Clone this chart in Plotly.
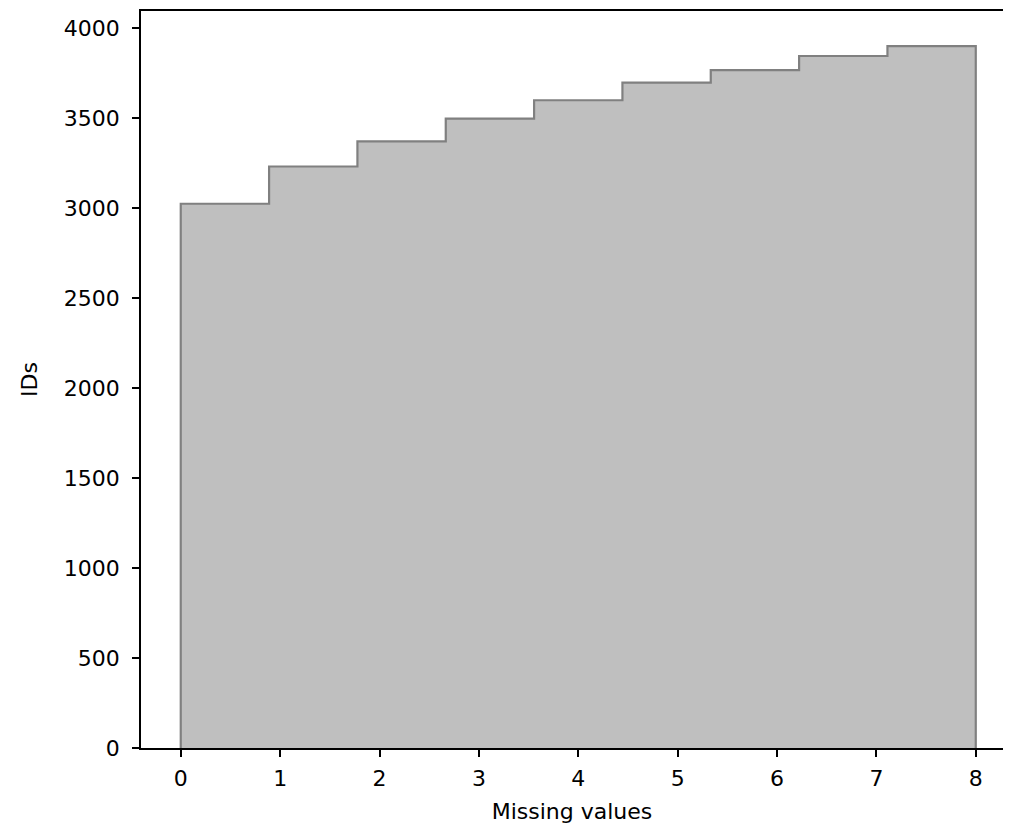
import numpy as np
import plotly.graph_objects as go

# Cumulative histogram: IDs with at most N missing values
bin_edges = np.linspace(0, 8, 10).tolist()
counts = [3024, 3231, 3371, 3497, 3599, 3697, 3767, 3845, 3900]
x_ticks = [0, 1, 2, 3, 4, 5, 6, 7, 8]
y_ticks = [0, 500, 1000, 1500, 2000, 2500, 3000, 3500, 4000]

xs = [bin_edges[0]] + bin_edges + [bin_edges[-1]]
ys = [0] + counts + [counts[-1]] + [0]

fig = go.Figure()
fig.add_trace(go.Scatter(
    x=xs, y=ys, mode="lines", line_shape="hv",
    fill="toself", fillcolor="#bfbfbf",
    line=dict(color="#808080", width=2.2),
    hoverinfo="skip", showlegend=False,
))

font = dict(family="DejaVu Sans", size=22, color="black")
fig.update_layout(
    width=995, height=816,
    margin=dict(l=133, r=0, t=3, b=76),
    plot_bgcolor="white", paper_bgcolor="white",
    font=font,
    xaxis=dict(
        range=[-0.4, 8.274], tickvals=x_ticks, ticks="outside", ticklen=7,
        tickwidth=1.5, tickcolor="black", showline=True, linecolor="black",
        linewidth=1.5, mirror=True, showgrid=False, zeroline=False,
        tickfont=font, ticklabelstandoff=3,
        title=dict(text="Missing values", standoff=17, font=font),
    ),
    yaxis=dict(
        range=[0, 4095], tickvals=y_ticks, ticks="outside", ticklen=7,
        tickwidth=1.5, tickcolor="black", showline=True, linecolor="black",
        linewidth=1.5, showgrid=False, zeroline=False, tickfont=font,
        title=dict(text="IDs", standoff=20, font=font), ticklabelstandoff=8,
    ),
)

fig.write_html("out.html")
